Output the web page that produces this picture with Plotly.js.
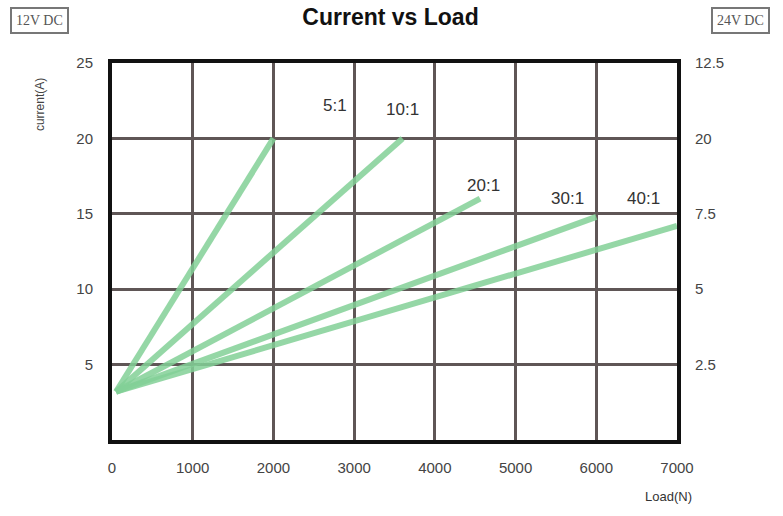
<!DOCTYPE html>
<html><head><meta charset="utf-8">
<script src="https://cdn.plot.ly/plotly-3.0.1.min.js"></script>
<style>html,body{margin:0;padding:0;background:#fff}#chart{width:783px;height:516px}</style>
</head><body><div id="chart"></div>
<script>
const ratios = ['5:1','10:1','20:1','30:1','40:1'];
const startLoad = [50, 50, 50, 50, 50];
const startCurrent = [3.2, 3.2, 3.2, 3.2, 3.2];
const endLoad = [2000, 3600, 4560, 6000, 7000];
const endCurrent = [20, 20, 16, 14.8, 14.2];
const labelLoad = [2760, 3600, 4600, 5640, 6580];
const labelCurrent = [22.2, 21.9, 16.9, 16.0, 16.0];
const xTicks = [0,1000,2000,3000,4000,5000,6000,7000];
const yTicks = [5,10,15,20,25];
const rightTickText = ['2.5','5','7.5','20','12.5'];

const traces = ratios.map((r,i)=>({
  x:[startLoad[i], endLoad[i]], y:[startCurrent[i], endCurrent[i]],
  mode:'lines', name:r, line:{color:'rgba(130,208,150,0.85)', width:6}, hoverinfo:'skip'
}));
traces.push({x:[0],y:[0],yaxis:'y2',mode:'markers',marker:{opacity:0},showlegend:false,hoverinfo:'skip'});

const ann = ratios.map((r,i)=>({x:labelLoad[i], y:labelCurrent[i], xref:'x', yref:'y', text:r, showarrow:false,
  xanchor:'center', yanchor:'middle',
  font:{family:'Liberation Sans, Arial, sans-serif', size:17, color:'#333'}}));
ann.push({xref:'paper', yref:'paper', x:-0.127, y:0.889, xanchor:'center', yanchor:'middle', text:'current(A)', textangle:-90, showarrow:false,
  font:{family:'Liberation Sans, Arial', size:12, color:'#444'}});
ann.push({xref:'paper', yref:'paper', x:1.03, y:-0.151, xanchor:'right', yanchor:'middle', text:'Load(N)', showarrow:false,
  font:{family:'Liberation Sans, Arial', size:13, color:'#333'}});
ann.push({xref:'paper', yref:'paper', x:-0.18, y:1.114, xanchor:'left', yanchor:'middle', text:'12V DC', showarrow:false,
  bordercolor:'#777', borderwidth:2, borderpad:4, font:{family:'Liberation Serif, serif', size:14, color:'#555'}});
ann.push({xref:'paper', yref:'paper', x:1.165, y:1.114, xanchor:'right', yanchor:'middle', text:'24V DC', showarrow:false,
  bordercolor:'#777', borderwidth:2, borderpad:4, font:{family:'Liberation Serif, serif', size:14, color:'#555'}});

const layout = {
  width:783, height:516, margin:{l:112, r:106, t:63, b:76},
  paper_bgcolor:'#fff', plot_bgcolor:'#fff', showlegend:false,
  title:{text:'<b>Current vs Load</b>', x:0.493, xref:'paper', y:0.968, yref:'container', yanchor:'middle',
    font:{family:'Liberation Sans, Arial', size:23, color:'#111'}},
  xaxis:{range:[0,7000], tickvals:xTicks, ticktext:xTicks.map(String), showgrid:true, gridcolor:'#5f5656', gridwidth:3,
    showline:true, linecolor:'#111', linewidth:4, mirror:true, zeroline:false, ticks:'', ticklabelstandoff:11,
    tickfont:{family:'Liberation Sans, Arial', size:15, color:'#444'}},
  yaxis:{range:[0,25], tickvals:yTicks, showgrid:true, gridcolor:'#5f5656', gridwidth:3,
    showline:true, linecolor:'#111', linewidth:4, mirror:true, zeroline:false, ticks:'', ticklabelstandoff:12,
    tickfont:{family:'Liberation Sans, Arial', size:15, color:'#444'}},
  yaxis2:{range:[0,25], overlaying:'y', side:'right', tickvals:yTicks, ticktext:rightTickText, showgrid:false,
    zeroline:false, showline:false, ticks:'', ticklabelstandoff:17,
    tickfont:{family:'Liberation Sans, Arial', size:15, color:'#444'}},
  annotations:ann
};
Plotly.newPlot('chart', traces, layout, {displayModeBar:false, staticPlot:true});
</script></body></html>
